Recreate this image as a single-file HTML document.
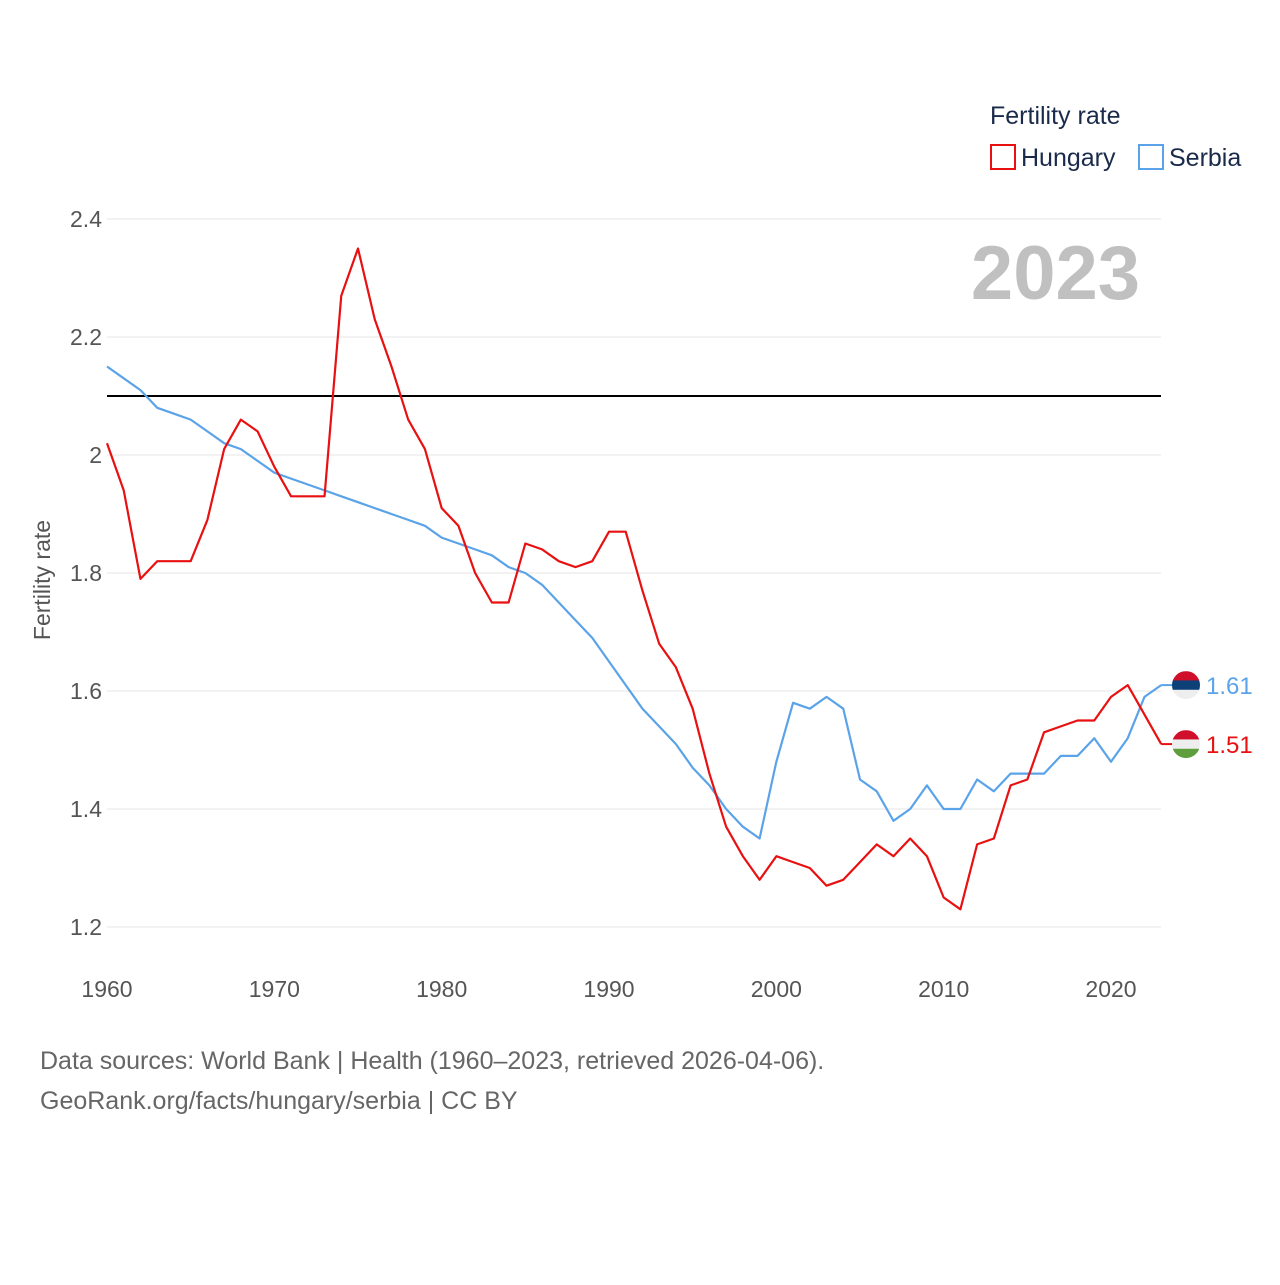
<!DOCTYPE html>
<html><head><meta charset="utf-8"><style>
body{margin:0;background:#fff;font-family:"Liberation Sans",sans-serif}
svg text{font-family:"Liberation Sans",sans-serif}
</style></head><body>
<svg id="chart" width="1280" height="1280" viewBox="0 0 1280 1280" xmlns="http://www.w3.org/2000/svg">
<g id="grid"></g>
<g id="yticks"></g>
<g id="xticks"></g>
<text x="1140" y="299" text-anchor="end" font-size="76" font-weight="bold" fill="#c0c0c0">2023</text>
<text transform="translate(50,580) rotate(-90)" text-anchor="middle" font-size="23" fill="#555">Fertility rate</text>
<line id="refline" stroke="#000" stroke-width="2"/>
<g id="series"></g>
<g>
<text x="990" y="124" font-size="25" fill="#1a2a4a">Fertility rate</text>
<rect x="991" y="145" width="24" height="24" fill="none" stroke="#e81010" stroke-width="2"/>
<text x="1021" y="166" font-size="25" fill="#1a2a4a">Hungary</text>
<rect x="1139" y="145" width="24" height="24" fill="none" stroke="#5ba3e8" stroke-width="2"/>
<text x="1169" y="166" font-size="25" fill="#1a2a4a">Serbia</text>
</g>
<g font-size="25" fill="#666">
<text x="40" y="1069">Data sources: World Bank | Health (1960–2023, retrieved 2026-04-06).</text>
<text x="40" y="1109">GeoRank.org/facts/hungary/serbia | CC BY</text>
</g>
</svg>
<script>
const years=[];for(let y=1960;y<=2023;y++)years.push(y);
const hungary=[2.02,1.94,1.79,1.82,1.82,1.82,1.89,2.01,2.06,2.04,1.98,1.93,1.93,1.93,2.27,2.35,2.23,2.15,2.06,2.01,1.91,1.88,1.80,1.75,1.75,1.85,1.84,1.82,1.81,1.82,1.87,1.87,1.77,1.68,1.64,1.57,1.46,1.37,1.32,1.28,1.32,1.31,1.30,1.27,1.28,1.31,1.34,1.32,1.35,1.32,1.25,1.23,1.34,1.35,1.44,1.45,1.53,1.54,1.55,1.55,1.59,1.61,1.56,1.51];
const serbia=[2.15,2.13,2.11,2.08,2.07,2.06,2.04,2.02,2.01,1.99,1.97,1.96,1.95,1.94,1.93,1.92,1.91,1.90,1.89,1.88,1.86,1.85,1.84,1.83,1.81,1.80,1.78,1.75,1.72,1.69,1.65,1.61,1.57,1.54,1.51,1.47,1.44,1.40,1.37,1.35,1.48,1.58,1.57,1.59,1.57,1.45,1.43,1.38,1.40,1.44,1.40,1.40,1.45,1.43,1.46,1.46,1.46,1.49,1.49,1.52,1.48,1.52,1.59,1.61];
const yTicks=[1.2,1.4,1.6,1.8,2,2.2,2.4];
const yTickLabels=["1.2","1.4","1.6","1.8","2","2.2","2.4"];
const xTicks=[1960,1970,1980,1990,2000,2010,2020];
const refValue=2.1;
const NS="http://www.w3.org/2000/svg";
const X=y=>107+(y-1960)*(1111-107)/60;
const Y=v=>219+(2.4-v)*590;
function el(t,a,p){const e=document.createElementNS(NS,t);for(const k in a)e.setAttribute(k,a[k]);p.appendChild(e);return e;}
const grid=document.getElementById('grid'),yt=document.getElementById('yticks'),xt=document.getElementById('xticks'),ser=document.getElementById('series');
yTicks.forEach((v,i)=>{
 const l=el('line',{x1:107,x2:1161,y1:Y(v),y2:Y(v),stroke:'#e6e6e6','stroke-width':1},grid);
 
 
 const t=el('text',{x:102,y:Y(v)+8,'text-anchor':'end','font-size':23,fill:'#555'},yt);
 
 
 t.textContent=yTickLabels[i];
});
xTicks.forEach(y=>{
 const t=el('text',{x:X(y),y:997,'text-anchor':'middle','font-size':23,fill:'#555'},xt);
 
 
 t.textContent=y;
});
const r=document.getElementById('refline');
r.setAttribute('x1',107);r.setAttribute('x2',1161);r.setAttribute('y1',Y(refValue));r.setAttribute('y2',Y(refValue));
function line(data,color,name){
 const p=el('polyline',{points:data.map((v,i)=>X(years[i])+','+Y(v)).join(' '),fill:'none',stroke:color,'stroke-width':2.2,'stroke-linejoin':'round'},ser);
 
 
}
line(serbia,'#5ba3e8','serbia-line');
line(hungary,'#e81010','hungary-line');
function endLabel(data,color,name,flag){
 const v=data[data.length-1],x=X(2023),y=Y(v);
 el('line',{x1:x,x2:x+12,y1:y,y2:y,stroke:color,'stroke-width':2},ser);
 const g=el('g',{},ser);
 
 
 const cx=1186;
 const clip=el('clipPath',{id:'c'+name},g);el('circle',{cx:cx,cy:y,r:14},clip);
 const gg=el('g',{'clip-path':'url(#c'+name+')'},g);
 flag.forEach((c,i)=>el('rect',{x:cx-14,y:y-14+i*28/3,width:28,height:28/3+0.5,fill:c},gg));
 const t=el('text',{x:1206,y:y+9,'font-size':24,fill:color},ser);
 
 
 t.textContent=v.toFixed(2);
}
endLabel(serbia,'#5ba3e8','serbia',['#d0102a','#0c4077','#eeeeee']);
endLabel(hungary,'#e81010','hungary',['#d0102a','#eeeeee','#5f9e3c']);
</script>
</body></html>
